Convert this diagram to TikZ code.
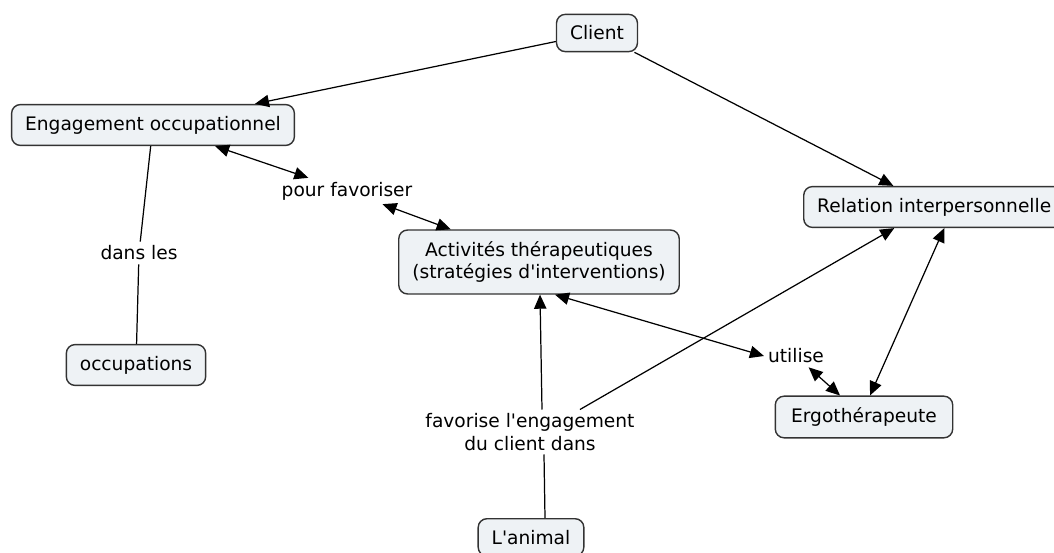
\documentclass[tikz,border=0pt]{standalone}
\usepackage{fontspec}
\setmainfont{DejaVu Sans}
\usetikzlibrary{arrows.meta}

\definecolor{boxfill}{HTML}{EEF2F5}
\definecolor{boxline}{HTML}{333333}

\tikzset{
    concept/.style={draw=boxline, fill=boxfill, line width=0.8pt, rounded corners=5pt,
        inner xsep=7.7pt, inner ysep=6.5pt, align=center},
    linkword/.style={inner sep=2pt, align=center},
    tip/.style={-{Triangle[length=8pt,width=7pt]}},
    bitip/.style={{Triangle[length=8pt,width=7pt]}-{Triangle[length=8pt,width=7pt]}},
}

\begin{document}
\begin{tikzpicture}[x=0.02cm, y=-0.02cm, line width=0.7pt, font=\fontsize{10.6}{12.7}\selectfont]
    \useasboundingbox (0,0) rectangle (1054,553);

    % concepts
    \node[concept] (client) at (597,33) {Client};
    \node[concept] (eng) at (153,125) {Engagement occupationnel};
    \node[concept, anchor=west] (rel) at (803,207) {Relation interpersonnelle};
    \node[concept] (act) at (539,262) {Activités thérapeutiques\\(stratégies d\textquotesingle interventions)};
    \node[concept] (occ) at (136,365) {occupations};
    \node[concept, inner xsep=9pt] (ergo) at (864,417) {Ergothérapeute};
    \node[concept, anchor=north] (animal) at (531,518) {L\textquotesingle animal};

    % linking words
    \node[linkword] (pour) at (347,191) {pour favoriser};
    \node[linkword] (dans) at (139,253) {dans les};
    \node[linkword] (util) at (796,356) {utilise};
    \node[linkword] (fav) at (530,432) {favorise l\textquotesingle engagement\\du client dans};

    % connectors
    \draw[tip] (client) -- (eng);
    \draw[tip] (client) -- (rel);
    \draw[bitip] (eng) -- (pour);
    \draw[bitip] (pour) -- (act);
    \draw (eng) -- (dans);
    \draw (dans) -- (occ);
    \draw ([xshift=0.28cm]animal.north) -- ([xshift=0.28cm]fav.south);
    \draw[tip] ([xshift=0.24cm]fav.north) -- ([xshift=0.02cm]act.south);
    \draw[tip] ([xshift=1cm]fav.north) -- ([xshift=-0.8cm]rel.south);
    \draw[bitip] ([xshift=0.32cm]act.south) -- (util.west);
    \draw[bitip] (util) -- (ergo);
    \draw[bitip] ([xshift=0.2cm]rel.south) -- ([xshift=0.12cm]ergo.north);
\end{tikzpicture}
\end{document}
